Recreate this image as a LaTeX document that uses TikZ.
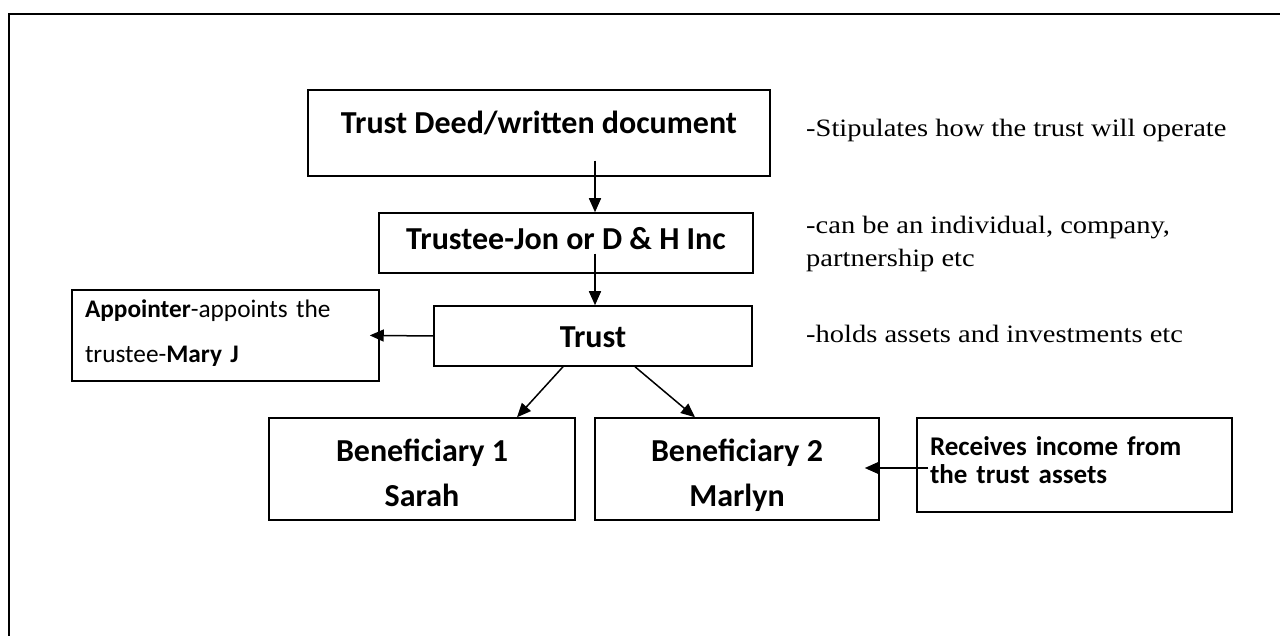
\documentclass[tikz,border=0pt]{standalone}
\usepackage{fontspec}
\setmainfont{Carlito}
\newfontfamily\sidefont[FakeStretch=1.14]{Liberation Serif}
\usetikzlibrary{arrows.meta,calc}
\newcommand{\topstrut}[1]{\rule{0pt}{#1}}
\newcommand{\botstrut}[1]{\rule[-#1]{0pt}{#1}}
\begin{document}
\begin{tikzpicture}[x=1pt,y=-1pt,
  box/.style={draw, line width=1.5pt, inner sep=0pt, font=\fontsize{32}{45}\selectfont\bfseries, align=center},
  sbox/.style={draw, line width=1.5pt, inner ysep=0pt, font=\fontsize{25.3}{45}\selectfont, align=left},
  side/.style={inner sep=0pt, anchor=base west, font=\sidefont\fontsize{25}{33}\selectfont, align=left},
  arr/.style={line width=1.5pt, -{Triangle[length=14pt,width=12pt]}}]
\useasboundingbox (0,0) rectangle (1280,636);
\clip (0,0) rectangle (1280,636);
\draw[line width=2pt] (9,700) -- (9,14) -- (1320,14);

\node[box, minimum width=462pt, minimum height=86pt, text height=22pt, text depth=20pt] (deed) at (539,133) {Trust Deed/written document};
\node[box, minimum width=374pt, minimum height=60pt, text height=22pt, text depth=8pt] (trustee) at (566,243) {Trustee-Jon or D \& H Inc};
\node[box, minimum width=318pt, minimum height=60pt, text height=26pt, text depth=2pt] (trust) at (593,336) {Trust};
\node[sbox, minimum width=307pt, minimum height=91pt, inner xsep=13pt, text width=281pt] (appointer) at (225.5,335.5) {\topstrut{22pt}\textbf{Appointer}-appoints the\\trustee-\textbf{Mary J}\botstrut{12pt}};
\node[box, minimum width=306pt, minimum height=102pt] (ben1) at (422,469) {\topstrut{36pt}Beneficiary 1\\Sarah\botstrut{7pt}};
\node[box, minimum width=284pt, minimum height=102pt] (ben2) at (737,469) {\topstrut{36pt}Beneficiary 2\\Marlyn\botstrut{7pt}};
\node[sbox, font=\fontsize{27}{28}\selectfont\bfseries, minimum width=315pt, minimum height=94pt, inner xsep=13pt, text width=289pt] (receives) at (1074.5,465) {\topstrut{30pt}Receives income from\\the trust assets\botstrut{22pt}};

\node[side] (t1) at (806,137) {-Stipulates how the trust will operate};
\node[side] (t2) at (806,267) {-can be an individual, company,\\partnership etc};
\node[side] (t3) at (806,342) {-holds assets and investments etc};

\draw[arr] ($(deed.south -| trust.north)+(2,-16)$) -- ($(trustee.north -| trust.north)+(2,0)$);
\draw[arr] ($(trustee.south -| trust.north)+(2,-20)$) -- ($(trust.north)+(2,0)$);
\draw[arr, shorten >=-10pt] (trust.west) -- (appointer.east);
\draw[arr] ($(trust.south)+(-30,0)$) -- ($(ben1.north)+(95,0)$);
\draw[arr] ($(trust.south)+(42,0)$) -- ($(ben2.north)+(-42,0)$);
\draw[arr] ($(receives.west)+(12,3)$) -- ($(ben2.east)+(-15,-1)$);
\end{tikzpicture}
\end{document}
